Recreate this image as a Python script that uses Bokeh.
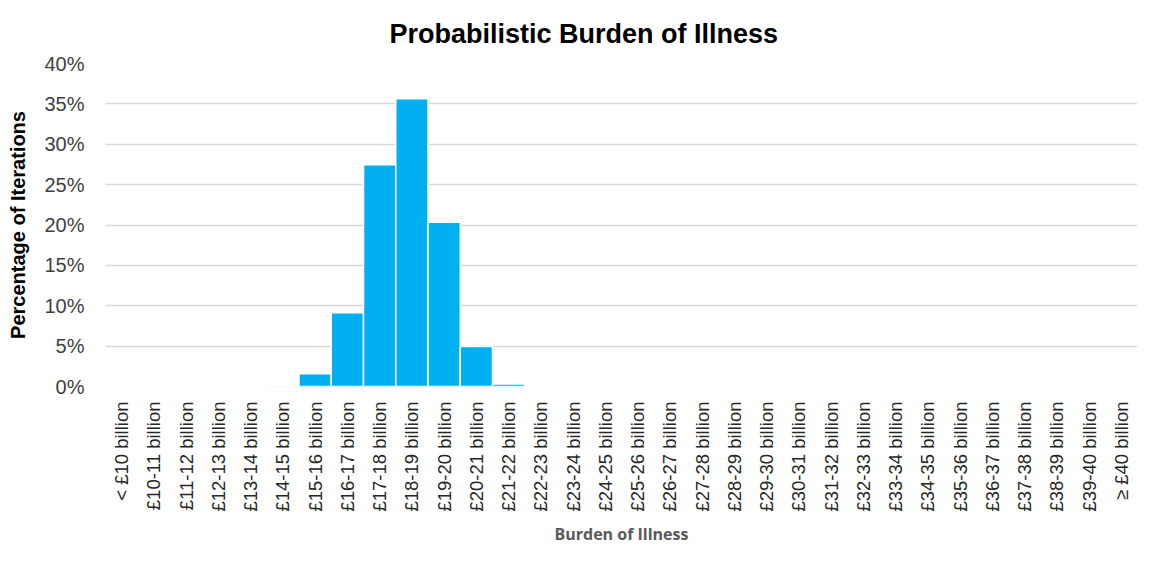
from bokeh.plotting import figure
from bokeh.models import FactorRange, NumeralTickFormatter, SingleIntervalTicker, Range1d
from bokeh.embed import file_html
from bokeh.resources import INLINE
import math

categories = ["< £10 billion"] + [f"£{a}-{a+1} billion" for a in range(10, 40)] + ["≥ £40 billion"]
values = [0, 0, 0, 0, 0, 0.0003, 0.0157, 0.0913, 0.2745, 0.3565, 0.2035, 0.0494, 0.0030,
          0, 0, 0, 0, 0, 0, 0, 0, 0, 0, 0, 0, 0, 0, 0, 0, 0, 0, 0]

p = figure(x_range=FactorRange(*categories), y_range=Range1d(0, 0.40),
           width=1137, height=547, output_backend="svg", toolbar_location=None,
           min_border_left=105, min_border_right=0, min_border_top=63, min_border_bottom=0)

p.vbar(x=categories, top=values, width=1.0, fill_color="#00b0f0",
       line_color="white", line_width=1.5)

p.title.text = "Probabilistic Burden of Illness"
p.title.text_font = "Liberation Sans"
p.title.text_font_size = "27px"
p.title.text_font_style = "bold"
p.title.text_color = "#000000"
p.title.align = "left"
p.title.offset = 284
p.title.standoff = 30

p.outline_line_color = None
p.background_fill_color = "white"
p.xgrid.grid_line_color = None
p.ygrid.grid_line_color = "#d9d9d9"
p.ygrid.grid_line_width = 1.5

p.yaxis.ticker = SingleIntervalTicker(interval=0.05)
p.yaxis.formatter = NumeralTickFormatter(format="0%")
p.yaxis.axis_line_color = None
p.yaxis.major_tick_line_color = None
p.yaxis.minor_tick_line_color = None
p.yaxis.major_label_text_font = "Liberation Sans"
p.yaxis.major_label_text_font_size = "20px"
p.yaxis.major_label_text_color = "#404040"
p.yaxis.major_label_standoff = 15
p.yaxis.axis_label = "Percentage of Iterations"
p.yaxis.axis_label_text_font = "Liberation Sans"
p.yaxis.axis_label_text_font_size = "20px"
p.yaxis.axis_label_text_font_style = "bold"
p.yaxis.axis_label_text_color = "#000000"
p.yaxis.axis_label_standoff = 12

p.xaxis.axis_line_color = None
p.xaxis.major_tick_line_color = None
p.xaxis.minor_tick_line_color = None
p.xaxis.major_label_orientation = math.pi / 2
p.xaxis.major_label_text_font = "Liberation Sans"
p.xaxis.major_label_text_font_size = "18.5px"
p.xaxis.major_label_text_color = "#262626"
p.xaxis.major_label_standoff = 9
p.xaxis.axis_label = "Burden of Illness"
p.xaxis.axis_label_text_font = "Open Sans"
p.xaxis.axis_label_text_font_size = "16px"
p.xaxis.axis_label_text_font_style = "bold"
p.xaxis.axis_label_text_color = "#595959"
p.xaxis.axis_label_standoff = 8

open("out.html", "w").write(file_html(p, INLINE))
